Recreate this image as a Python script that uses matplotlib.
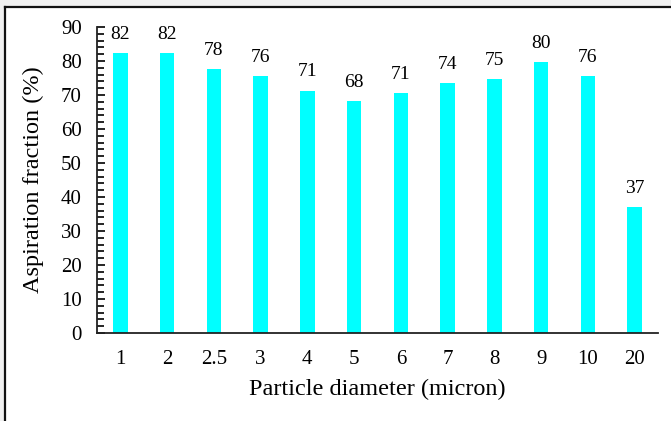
import matplotlib
matplotlib.use("Agg")
import matplotlib.pyplot as plt
from matplotlib.lines import Line2D
from matplotlib.patches import Rectangle
from matplotlib.ticker import MultipleLocator

# particle diameters (category labels) and aspiration fraction (%)
diameters = ["1", "2", "2.5", "3", "4", "5", "6", "7", "8", "9", "10", "20"]
fraction = [82.3, 82.3, 77.6, 75.6, 71.3, 68.1, 70.6, 73.6, 74.6, 79.7, 75.6, 37.1]

plt.rcParams['font.family'] = ['Liberation Serif', 'DejaVu Serif']

fig = plt.figure(figsize=(6.71, 4.21), dpi=100)
ax = fig.add_axes([97 / 671, 88 / 421, 561 / 671, 306 / 421])

x = range(len(diameters))
bars = ax.bar(x, fraction, width=0.31, color='#00ffff')

# value labels above bars
for b, v in zip(bars, fraction):
    ax.text(b.get_x() + b.get_width() / 2, v + 3, "%.0f" % v,
            ha='center', va='bottom', fontsize=14)

ax.set_xlim(-0.5, len(diameters) - 0.5)
ax.set_ylim(0, 90)
ax.set_xticks(list(x))
ax.set_xticklabels(diameters)
ax.yaxis.set_major_locator(MultipleLocator(10))
ax.yaxis.set_minor_locator(MultipleLocator(2))
ax.tick_params(axis='y', which='major', direction='in', length=6, width=1.2, labelsize=15, pad=11)
ax.tick_params(axis='y', which='minor', direction='in', length=5, width=1.2)
ax.tick_params(axis='x', length=0, labelsize=15, pad=12)

for s in ['top', 'right']:
    ax.spines[s].set_visible(False)
for s in ['left', 'bottom']:
    ax.spines[s].set_linewidth(1.3)
    ax.spines[s].set_color('#222222')

ax.set_xlabel("Particle diameter (micron)", fontsize=17.5, labelpad=7)
ax.set_ylabel("Aspiration fraction (%)", fontsize=17.5, labelpad=12)

# outer frame (top and left edges visible in the crop)
fig.add_artist(Rectangle((0, 1 - 6 / 421), 1, 6 / 421, transform=fig.transFigure,
                         color='#f0f0f0', zorder=0))
fig.add_artist(Rectangle((0, 0), 3 / 671, 1, transform=fig.transFigure,
                         color='#f0f0f0', zorder=0))
fig.add_artist(Line2D([4.5 / 671, 1], [1 - 7 / 421, 1 - 7 / 421], transform=fig.transFigure,
                      color='#111111', linewidth=1.6))
fig.add_artist(Line2D([4.5 / 671, 4.5 / 671], [0, 1 - 7 / 421], transform=fig.transFigure,
                      color='#111111', linewidth=1.6))

fig.savefig("out.png", dpi=100)
